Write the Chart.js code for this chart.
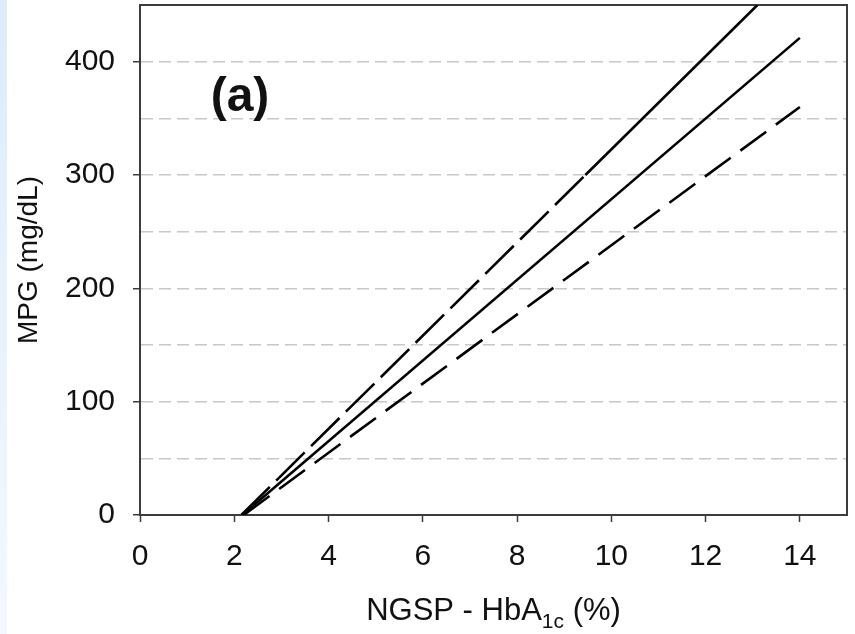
<!DOCTYPE html>
<html>
<head>
<meta charset="utf-8">
<script src="https://cdn.jsdelivr.net/npm/chart.js@4/dist/chart.umd.min.js"></script>
<style>
  html, body { margin: 0; padding: 0; background: #ffffff; }
  #wrap { position: relative; width: 855px; height: 634px; }
  #strip { position: absolute; left: 0; top: 0; width: 7px; height: 634px;
           background: linear-gradient(to bottom, #dcecfb, #f3f8fe); }
  canvas { position: absolute; left: 0; top: 0; }
</style>
</head>
<body>
<div id="wrap">
  <div id="strip"></div>
  <canvas id="c" width="855" height="634"></canvas>
</div>
<script>
// ---- data ----
const xTickLabels = ['0', '2', '4', '6', '8', '10', '12', '14'];
const yTickLabels = ['0', '100', '200', '300', '400'];

// central regression line (solid)
const centerX = [2.17, 14];
const centerY = [0, 421];
// upper bound, dashed part
const upperDashX = [2.15, 9.45];
const upperDashY = [0, 300];
// upper bound, solid continuation (runs out of the top of the plot)
const upperSolidX = [9.45, 13.1];
const upperSolidY = [300, 450];
// lower bound (dashed)
const lowerX = [2.2, 14];
const lowerY = [0, 360];

const xTitleMain = 'NGSP - HbA';
const xTitleSub = '1c';
const xTitleTail = ' (%)';
const yTitle = 'MPG (mg/dL)';
const panelLabel = '(a)';

function pts(xs, ys) { return xs.map((x, i) => ({ x: x, y: ys[i] })); }

const FONT = "'Liberation Sans', Arial, sans-serif";
const AXIS = '#3c3c3c';

const textPlugin = {
  id: 'extraText',
  afterDraw(chart) {
    const ctx = chart.ctx;
    const area = chart.chartArea;
    ctx.save();
    ctx.fillStyle = '#111';
    // x axis title with subscript
    const mainFont = '31px ' + FONT;
    const subFont = '21px ' + FONT;
    ctx.font = mainFont;
    const w1 = ctx.measureText(xTitleMain).width;
    const w3 = ctx.measureText(xTitleTail).width;
    ctx.font = subFont;
    const w2 = ctx.measureText(xTitleSub).width;
    const total = w1 + w2 + w3;
    const cx = (area.left + area.right) / 2;
    let x = cx - total / 2;
    const base = 620;
    ctx.textBaseline = 'alphabetic';
    ctx.textAlign = 'left';
    ctx.font = mainFont;
    ctx.fillText(xTitleMain, x, base);
    x += w1;
    ctx.font = subFont;
    ctx.fillText(xTitleSub, x, base + 8);
    x += w2;
    ctx.font = mainFont;
    ctx.fillText(xTitleTail, x, base);
    // panel label
    ctx.font = 'bold 48px ' + FONT;
    ctx.textAlign = 'center';
    ctx.textBaseline = 'middle';
    ctx.fillText(panelLabel, 240, 98);
    ctx.restore();
  }
};

const lineStyle = { borderColor: '#000', borderWidth: 2.6, pointRadius: 0, fill: false, tension: 0 };

new Chart(document.getElementById('c'), {
  type: 'line',
  data: {
    datasets: [
      Object.assign({ label: 'center', data: pts(centerX, centerY) }, lineStyle),
      Object.assign({ label: 'upper', data: pts(upperDashX, upperDashY), borderDash: [40, 9] }, lineStyle),
      Object.assign({ label: 'upper2', data: pts(upperSolidX, upperSolidY) }, lineStyle),
      Object.assign({ label: 'lower', data: pts(lowerX, lowerY), borderDash: [32, 12] }, lineStyle)
    ]
  },
  options: {
    responsive: false,
    animation: false,
    devicePixelRatio: 1,
    layout: { padding: { left: 0, top: 5, right: 8, bottom: 0 } },
    plugins: { legend: { display: false }, tooltip: { enabled: false } },
    scales: {
      x: {
        type: 'linear', position: 'bottom', min: 0, max: 15,
        afterFit(s) { s.height = 119; s.paddingLeft = 0; s.paddingRight = 0; },
        ticks: {
          stepSize: 2, includeBounds: false, padding: 17,
          color: '#111', font: { family: FONT, size: 30 },
          callback: (v) => (xTickLabels.includes(String(v)) ? String(v) : '')
        },
        grid: { display: true, drawOnChartArea: false, drawTicks: true, tickLength: 7,
                tickColor: AXIS, tickWidth: 1.5 },
        border: { display: true, color: AXIS, width: 2 }
      },
      y: {
        type: 'linear', position: 'left', min: 0, max: 450,
        afterFit(s) { s.width = 140; s.paddingTop = 0; s.paddingBottom = 0; },
        ticks: {
          stepSize: 50, padding: 18,
          color: '#111', font: { family: FONT, size: 30 },
          callback: (v) => (yTickLabels.includes(String(v)) ? String(v) : '')
        },
        grid: {
          drawTicks: true, tickLength: 7, tickWidth: 1.5,
          color: (c) => (c.tick && c.tick.value > 0 && c.tick.value < 450 ? '#c8c8c8' : 'rgba(0,0,0,0)'),
          lineWidth: 1.5,
          tickColor: (c) => (c.tick && yTickLabels.includes(String(c.tick.value)) ? AXIS : 'rgba(0,0,0,0)')
        },
        border: { display: true, color: AXIS, width: 2, dash: [12, 6] },
        title: { display: true, text: yTitle, color: '#111', font: { family: FONT, size: 28 },
                 padding: { top: 12, bottom: 0 } }
      },
      x2: {
        type: 'linear', position: 'top', min: 0, max: 15,
        afterFit(s) { s.height = 0; s.paddingLeft = 0; s.paddingRight = 0; },
        ticks: { display: false },
        grid: { display: false, drawTicks: false },
        border: { display: true, color: AXIS, width: 2 }
      },
      y2: {
        type: 'linear', position: 'right', min: 0, max: 450,
        afterFit(s) { s.width = 0; s.paddingTop = 0; s.paddingBottom = 0; },
        ticks: { display: false },
        grid: { display: false, drawTicks: false },
        border: { display: true, color: AXIS, width: 2 }
      }
    }
  },
  plugins: [textPlugin]
});
</script>
</body>
</html>
